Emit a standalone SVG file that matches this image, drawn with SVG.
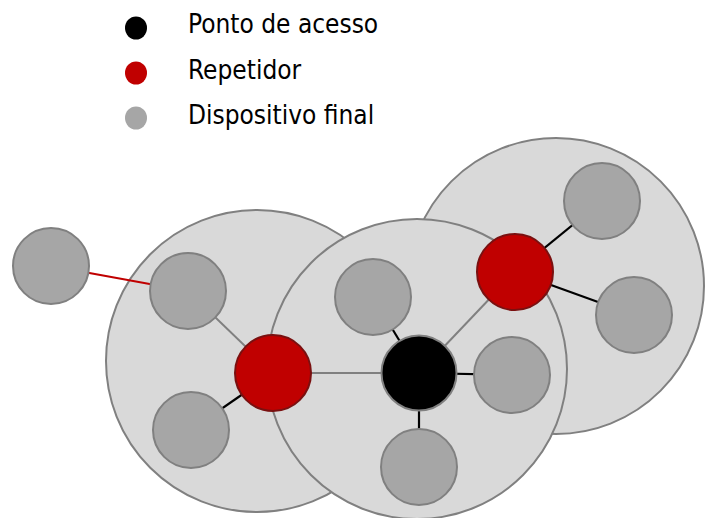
<svg xmlns="http://www.w3.org/2000/svg" width="705" height="518" viewBox="0 0 705 518">
<style>
.zone{fill:#D9D9D9;stroke:#808080;stroke-width:2}
.dev{fill:#A6A6A6;stroke:#808080;stroke-width:2}
.rep{fill:#C00000;stroke:#7A1010;stroke-width:2}
.ap{fill:#000000;stroke:#808080;stroke-width:2}
.lk{stroke:#000000;stroke-width:2.2}
.lg{stroke:#808080;stroke-width:2}
.lr{stroke:#C00000;stroke-width:2}
.lbl{font-family:"DejaVu Sans Condensed","DejaVu Sans",sans-serif;font-stretch:condensed;font-size:26px;fill:#000}
</style>
<defs>
<filter id="soft" x="-30%" y="-30%" width="160%" height="160%"><feGaussianBlur stdDeviation="0.6"/></filter>
</defs>
<rect width="705" height="518" fill="#FFFFFF"/>
<g id="legend">
<ellipse cx="136" cy="28" rx="11" ry="11.5" fill="#000000" filter="url(#soft)"/>
<ellipse cx="136" cy="73" rx="11" ry="11.5" fill="#C00000" filter="url(#soft)"/>
<ellipse cx="136" cy="118" rx="11" ry="11.5" fill="#A6A6A6" filter="url(#soft)"/>
<text class="lbl" x="188" y="33">Ponto de acesso</text>
<text class="lbl" x="188" y="79">Repetidor</text>
<text class="lbl" x="188" y="124">Dispositivo final</text>
</g>
<g id="zones">
<circle id="zone-left" class="zone" cx="257" cy="361" r="151"/>
<circle id="zone-right" class="zone" cx="556" cy="286" r="148"/>
<circle id="zone-mid" class="zone" cx="417" cy="369" r="150"/>
</g>
<g id="connectors">
<line class="lr" x1="51" y1="266" x2="188" y2="291"/>
<line class="lg" x1="188" y1="291" x2="273" y2="373"/>
<line class="lk" x1="191" y1="430" x2="273" y2="373"/>
<line class="lg" x1="273" y1="373" x2="419" y2="373"/>
<line class="lk" x1="373" y1="297" x2="419" y2="373"/>
<line class="lg" x1="419" y1="373" x2="515" y2="272"/>
<line class="lk" x1="419" y1="373" x2="512" y2="375"/>
<line class="lk" x1="419" y1="373" x2="419" y2="467"/>
<line class="lk" x1="515" y1="272" x2="602" y2="201"/>
<line class="lk" x1="515" y1="272" x2="634" y2="315"/>
</g>
<g id="n-far-left"><circle class="dev" cx="51" cy="266" r="38"/></g>
<g id="n-left-top"><circle class="dev" cx="188" cy="291" r="38"/></g>
<g id="n-left-bottom"><circle class="dev" cx="191" cy="430" r="38"/></g>
<g id="n-rep-left"><circle class="rep" cx="273" cy="373" r="38"/></g>
<g id="n-mid-top"><circle class="dev" cx="373" cy="297" r="38"/></g>
<g id="n-ap"><circle class="ap" cx="419" cy="373" r="37.5"/></g>
<g id="n-mid-right"><circle class="dev" cx="512" cy="375" r="38"/></g>
<g id="n-mid-bottom"><circle class="dev" cx="419" cy="467" r="38"/></g>
<g id="n-rep-right"><circle class="rep" cx="515" cy="272" r="38"/></g>
<g id="n-right-top"><circle class="dev" cx="602" cy="201" r="38"/></g>
<g id="n-right-bottom"><circle class="dev" cx="634" cy="315" r="38"/></g>
</svg>
